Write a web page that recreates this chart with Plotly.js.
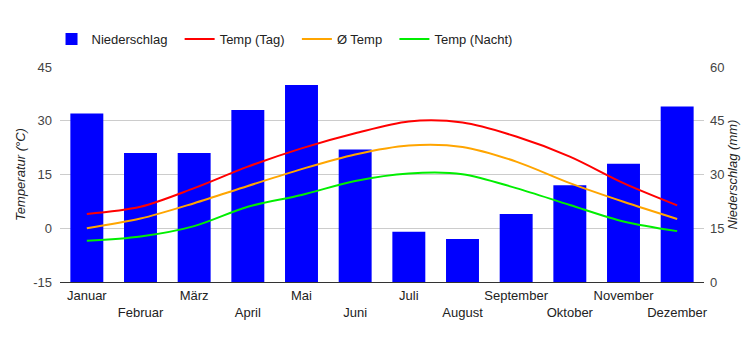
<!DOCTYPE html>
<html><head><meta charset="utf-8">
<script src="https://cdn.plot.ly/plotly-3.0.1.min.js"></script>
<style>html,body{margin:0;padding:0;background:#fff}#c{width:750px;height:350px}</style>
</head><body><div id="c"></div>
<script>
const months = ["Januar","Februar","März","April","Mai","Juni","Juli","August","September","Oktober","November","Dezember"];
const precip = [47,36,36,48,55,37,14,12,19,27,33,49];
const tempDay = [4.0,6.0,11.2,17.2,22.3,26.5,29.8,29.5,25.6,20.0,12.6,6.4];
const tempMean = [0.0,2.7,7.0,11.8,16.5,20.6,23.1,22.7,18.6,12.6,7.4,2.6];
const tempNight = [-3.5,-2.3,0.6,6.0,9.3,13.2,15.3,15.1,11.2,6.5,1.9,-0.8];
const seriesNames = ["Niederschlag","Temp (Tag)","Ø Temp","Temp (Nacht)"];
const tempTicks = [-15,0,15,30,45];
const tempTickText = ["-15","0","15","30","45"];
const precipTicks = [0,15,30,45,60];
const tickText = months.map((m,i)=> i%2===0 ? m : "<br>"+m);
const pad = "\u00a0\u00a0";

const fam = "Liberation Sans, Arial, sans-serif";
const data = [
  {type:"bar", name:seriesNames[0]+pad, x:months, y:precip, yaxis:"y", marker:{color:"#0000ff"}},
  {type:"scatter", mode:"lines", name:seriesNames[1]+pad, x:months, y:tempDay, yaxis:"y2", line:{color:"#ff0000", width:2, shape:"spline", smoothing:0.9}},
  {type:"scatter", mode:"lines", name:seriesNames[2]+pad, x:months, y:tempMean, yaxis:"y2", line:{color:"#ffa500", width:2, shape:"spline", smoothing:0.9}},
  {type:"scatter", mode:"lines", name:seriesNames[3], x:months, y:tempNight, yaxis:"y2", line:{color:"#00ee00", width:2, shape:"spline", smoothing:0.9}}
];
const layout = {
  width:750, height:350,
  margin:{l:60, r:46, t:67, b:68},
  paper_bgcolor:"#fff", plot_bgcolor:"#fff",
  font:{family:fam, size:13, color:"#222"},
  bargap:0.386,
  showlegend:true,
  legend:{orientation:"h", x:0.0687, xref:"container", y:0.9314, yref:"container", yanchor:"top", xanchor:"left", itemwidth:30, font:{family:fam, size:13, color:"#222"}, traceorder:"normal", bgcolor:"rgba(0,0,0,0)"},
  xaxis:{tickmode:"array", tickvals:months, ticktext:tickText, tickangle:0, showgrid:false, showline:true, linecolor:"#333", linewidth:1, ticks:"", tickfont:{family:fam, size:13, color:"#222"}, ticklabelstandoff:1, fixedrange:true},
  yaxis:{side:"right", range:[0,60], tickmode:"array", tickvals:precipTicks, showgrid:true, gridcolor:"#cccccc", zeroline:false,
         title:{text:"<i>Niederschlag (mm)</i>", font:{family:fam, size:13, color:"#222"}, standoff:4}, tickfont:{family:fam, size:13, color:"#444"}, ticks:"", ticklen:0, ticklabelstandoff:5},
  yaxis2:{side:"left", overlaying:"y", range:[-15,45], tickmode:"array", tickvals:tempTicks, ticktext:tempTickText, showgrid:false, zeroline:false,
         title:{text:"<i>Temperatur (°C)</i>", font:{family:fam, size:13, color:"#222"}, standoff:4}, tickfont:{family:fam, size:13, color:"#444"}, ticks:"", ticklen:0, ticklabelstandoff:7}
};
Plotly.newPlot("c", data, layout, {displayModeBar:false, staticPlot:true});
</script></body></html>
